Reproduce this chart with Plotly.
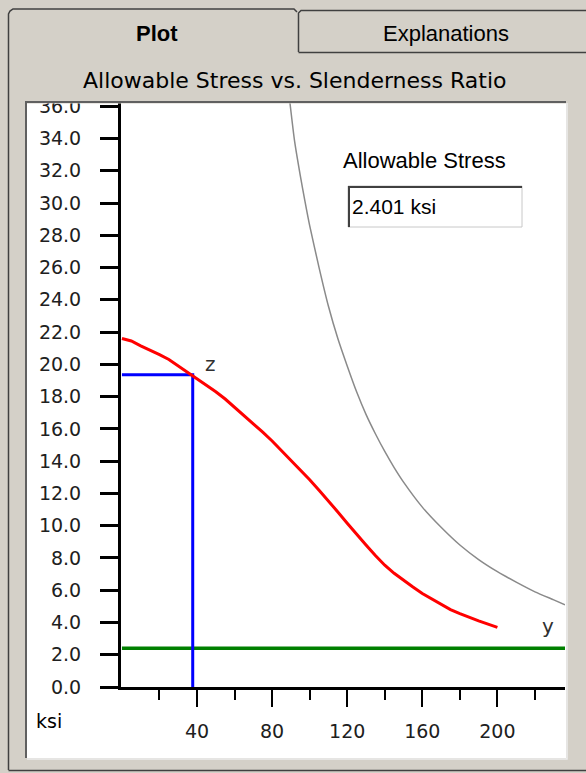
import plotly.graph_objects as go

# ---------------- data ----------------
slenderness = [0, 5, 10, 15, 20, 25, 30, 35, 40, 45, 50, 55, 60, 65, 70, 75,
               80, 85, 90, 95, 100, 105, 110, 115, 120, 125, 130, 135, 140,
               145, 150, 155, 160, 165, 170, 175, 180, 185, 190, 195, 200]
allowable_curve = [21.6, 21.45, 21.15, 20.9, 20.6, 20.3, 19.9, 19.55, 19.15,
                   18.75, 18.3, 17.85, 17.35, 16.85, 16.35, 15.8, 15.25,
                   14.65, 14.1, 13.45, 12.85, 12.2, 11.55, 10.85, 10.15,
                   9.45, 8.8, 8.15, 7.55, 7.05, 6.6, 6.2, 5.8, 5.45, 5.1,
                   4.8, 4.55, 4.3, 4.1, 3.9, 3.7]

euler_x = [89.5, 92, 95, 97.5, 100, 105, 110, 115, 120, 125, 130, 135, 140,
           145, 150, 160, 170, 180, 190, 200, 210, 220, 230, 236]
euler_y = [36.2, 33.8, 31.7, 30.1, 28.6, 26.0, 23.6, 21.6, 19.9, 18.3,
           16.9, 15.7, 14.6, 13.6, 12.7, 11.15, 9.9, 8.8, 7.9, 7.15, 6.5,
           5.9, 5.4, 5.1]

z_point = (37.7, 19.35)          # slenderness, stress at point z
allowable_value = 2.401          # ksi (green line, text box)
x_max = 236
y_max = 36.2

y_ticks = [v * 2 for v in range(19)]          # 0 .. 36
x_major = [40, 80, 120, 160, 200]
x_minor = [20, 60, 100, 140, 180, 220]

# ---------------- geometry helpers ----------------
W, H = 586, 773
ML, MR, MT, MB = 121, 21, 103, 86
PW = W - ML - MR
PH = H - MT - MB


def px(x):
    return (x - ML) / PW


def py(y):
    return (H - MB - y) / PH


def path(points):
    s = "M " + " L ".join(f"{px(a):.5f},{py(b):.5f}" for a, b in points)
    return s


GRAY = "#d4d0c8"
DARK = "#404040"

fig = go.Figure()

fig.add_trace(go.Scatter(x=euler_x, y=euler_y, mode="lines",
                         line=dict(color="#8a8a8a", width=1.5, shape="spline",
                                   smoothing=0.6),
                         hoverinfo="skip", showlegend=False))
fig.add_trace(go.Scatter(x=[0, x_max], y=[allowable_value, allowable_value],
                         mode="lines", line=dict(color="#008000", width=3.5),
                         showlegend=False))
fig.add_trace(go.Scatter(x=[0, z_point[0], z_point[0]],
                         y=[z_point[1], z_point[1], 0], mode="lines",
                         line=dict(color="#0000ff", width=3),
                         showlegend=False))
fig.add_trace(go.Scatter(x=slenderness, y=allowable_curve, mode="lines",
                         line=dict(color="#ff0000", width=3),
                         showlegend=False))

shapes = []
# white panel
shapes.append(dict(type="rect", xref="paper", yref="paper", layer="below",
                   x0=px(27), x1=px(566), y0=py(758), y1=py(102),
                   fillcolor="white", line=dict(width=0)))
# clip strip above the panel (hides top part of the 36.0 label)
shapes.append(dict(type="rect", xref="paper", yref="paper", layer="above",
                   x0=px(20), x1=px(570), y0=py(103.5), y1=py(60),
                   fillcolor=GRAY, line=dict(width=0)))
# sunken border of the white panel
shapes.append(dict(type="path", xref="paper", yref="paper", layer="above",
                   path=path([(26, 758), (26, 102), (566, 102)]),
                   line=dict(color="#606060", width=2)))
shapes.append(dict(type="path", xref="paper", yref="paper", layer="above",
                   path=path([(27, 759), (567, 759), (567, 103)]),
                   line=dict(color="#ececec", width=1.5)))
# outer tab-control frame
shapes.append(dict(type="path", xref="paper", yref="paper", layer="above",
                   path=path([(8.5, 770), (8.5, 14), (10, 11), (13, 9),
                              (294, 9), (297, 12)]),
                   line=dict(color=DARK, width=1.5)))
shapes.append(dict(type="path", xref="paper", yref="paper", layer="above",
                   path=path([(8.5, 770.5), (586, 770.5)]),
                   line=dict(color=DARK, width=1.5)))
shapes.append(dict(type="path", xref="paper", yref="paper", layer="above",
                   path=path([(298.5, 52), (298.5, 13), (301, 10.5),
                              (586, 10.5)]),
                   line=dict(color=DARK, width=1.5)))
shapes.append(dict(type="path", xref="paper", yref="paper", layer="above",
                   path=path([(298.5, 52.5), (586, 52.5)]),
                   line=dict(color=DARK, width=1.5)))
# allowable-stress text box
shapes.append(dict(type="rect", xref="paper", yref="paper", layer="above",
                   x0=px(348), x1=px(522), y0=py(227), y1=py(186),
                   fillcolor="white", line=dict(color="#c8c8c8", width=1)))
shapes.append(dict(type="path", xref="paper", yref="paper", layer="above",
                   path=path([(349, 227), (349, 187), (522, 187)]),
                   line=dict(color=DARK, width=2)))

annotations = []


def label(text, x, y, size, family, xanchor="center", color="black",
          bold=False):
    if bold:
        text = f"<b>{text}</b>"
    annotations.append(dict(text=text, x=px(x), y=py(y), xref="paper",
                            yref="paper", showarrow=False, xanchor=xanchor,
                            yanchor="middle",
                            font=dict(size=size, family=family, color=color)))


label("Plot", 157, 33, 22, "Liberation Sans", bold=True)
label("Explanations", 446, 33, 22, "Liberation Sans")
label("Allowable Stress vs. Slenderness Ratio", 294, 81, 22, "DejaVu Sans")
label("Allowable Stress", 424, 161, 22, "Liberation Sans")
label(f"{allowable_value:.3f} ksi", 350, 206, 21, "Liberation Sans",
      xanchor="left")
label("ksi", 49, 721, 19, "DejaVu Sans")
label("z", 210.5, 364, 20, "DejaVu Sans", color="#303030")
label("y", 547.5, 626, 20, "DejaVu Sans", color="#303030")

fig.update_layout(
    width=W, height=H,
    margin=dict(l=ML, r=MR, t=MT, b=MB, pad=0),
    paper_bgcolor=GRAY, plot_bgcolor="white",
    shapes=shapes, annotations=annotations,
    showlegend=False,
    xaxis=dict(range=[-0.5, x_max], showgrid=False, zeroline=False,
               showline=True, linecolor="black", linewidth=3,
               tickmode="array", tickvals=x_major,
               ticktext=[str(v) for v in x_major],
               ticks="outside", ticklen=17, tickwidth=2, tickcolor="black",
               ticklabelstandoff=8,
               tickfont=dict(family="DejaVu Sans", size=19, color="#202020"),
               minor=dict(tickmode="array", tickvals=x_minor,
                          ticks="outside", ticklen=10, tickwidth=2,
                          tickcolor="black"),
               fixedrange=True),
    yaxis=dict(range=[0, y_max], showgrid=False, zeroline=False,
               showline=True, linecolor="black", linewidth=3,
               tickmode="array", tickvals=y_ticks,
               ticktext=[f"{v:.1f}" for v in y_ticks],
               ticks="outside", ticklen=18, tickwidth=2.5, tickcolor="black",
               ticklabelstandoff=15,
               tickfont=dict(family="DejaVu Sans", size=19, color="#202020"),
               fixedrange=True),
)

fig.write_html(
    "out.html",
    config={"displayModeBar": False},
    post_script="document.body.style.margin='0';"
                "document.body.style.overflow='hidden';",
)
